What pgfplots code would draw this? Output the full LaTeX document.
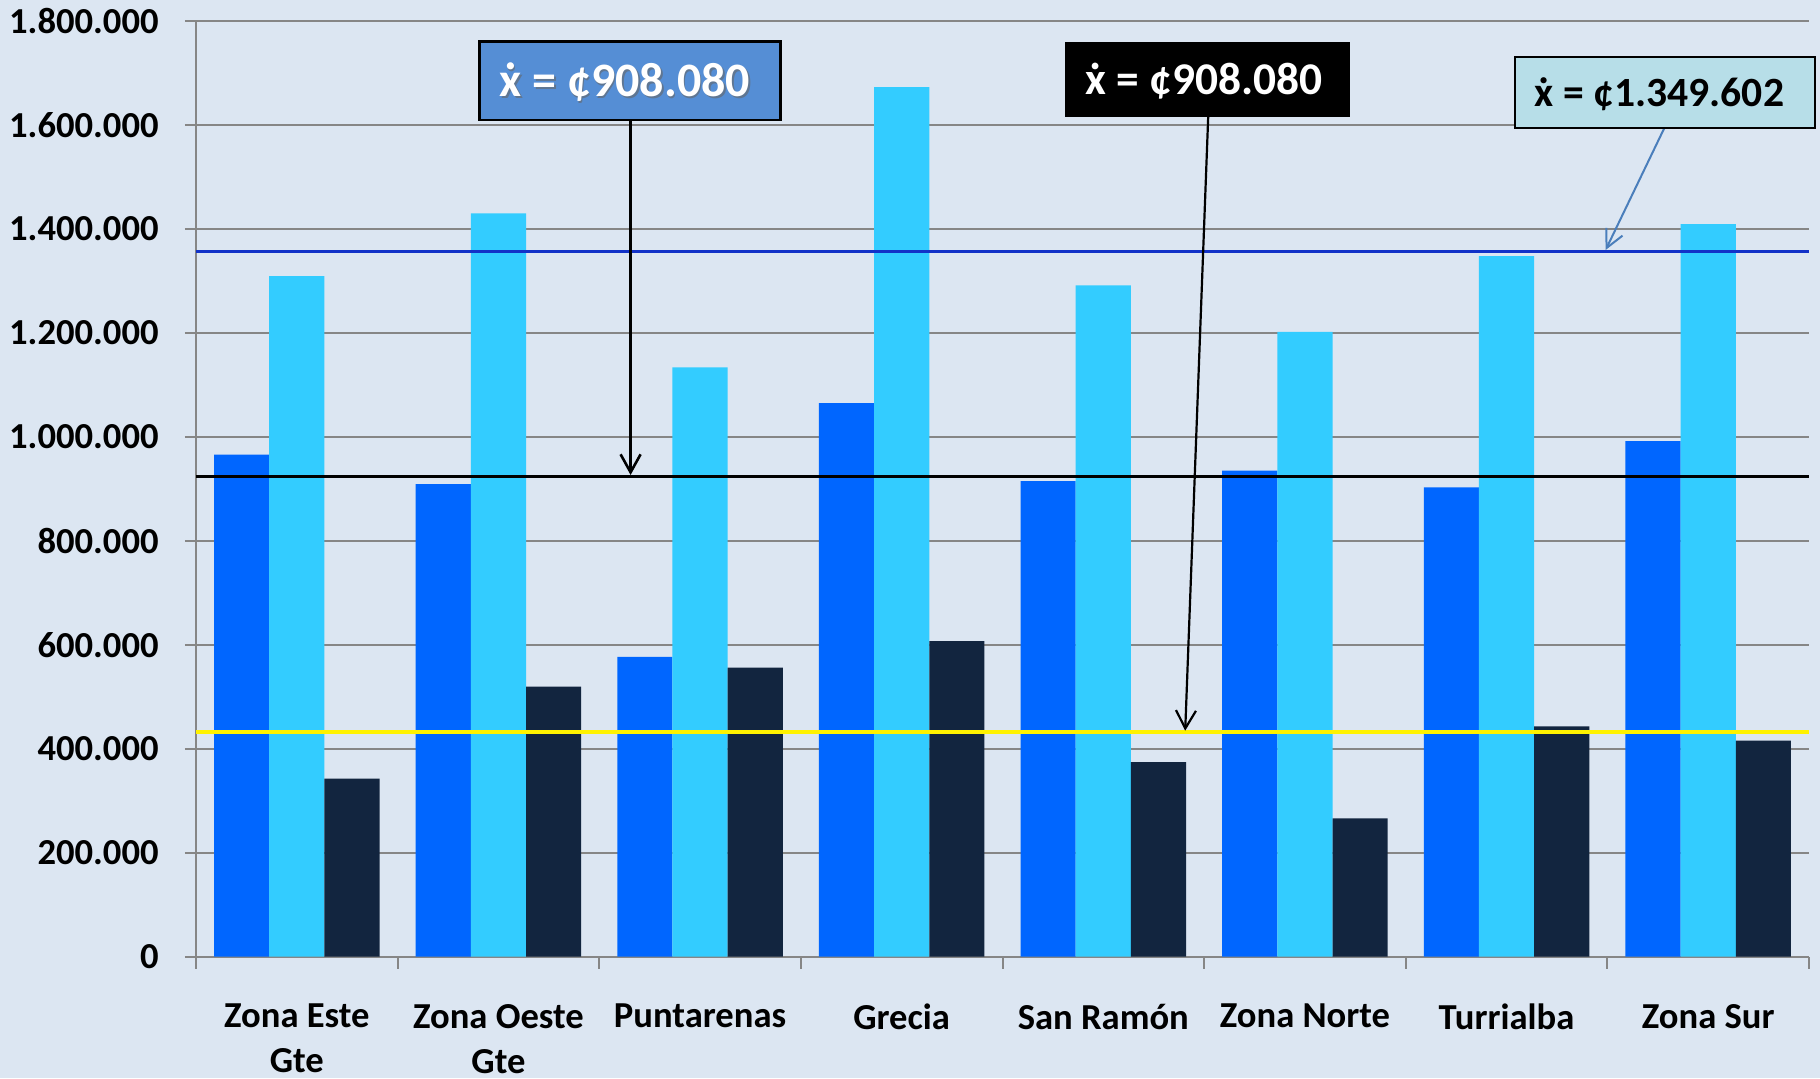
\documentclass[border=0pt]{standalone}
\usepackage{fontspec}
\setmainfont{Carlito}
\usepackage{pgfplots}
\pgfplotsset{compat=1.18}
\usetikzlibrary{arrows.meta}
\definecolor{bg}{HTML}{DCE6F2}
\definecolor{barA}{HTML}{0066FF}
\definecolor{barB}{HTML}{33CCFF}
\definecolor{barC}{HTML}{12253F}
\definecolor{gridc}{HTML}{868686}
\definecolor{meanblue}{HTML}{1232C8}
\definecolor{boxblue}{HTML}{558ED5}
\definecolor{boxlight}{HTML}{B7DEE8}
\definecolor{arrowblue}{HTML}{4A7EBB}
\newcommand{\xdot}{\ooalign{x\cr\hidewidth\raisebox{0.56em}{.}\hidewidth\cr}}
\begin{document}
\begin{tikzpicture}
\useasboundingbox (-98pt,-60.65pt) rectangle (812pt,478.35pt);
\fill[bg] (-98pt,-60.65pt) rectangle (812pt,478.35pt);
\begin{axis}[
  at={(0pt,0pt)}, anchor=south west,
  scale only axis, width=806.5pt, height=468pt,
  xmin=-0.5, xmax=7.5, ymin=0, ymax=1800000,
  ytick={0,200000,400000,600000,800000,1000000,1200000,1400000,1600000,1800000},
  scaled y ticks=false,
  /pgf/number format/fixed, /pgf/number format/precision=0,
  /pgf/number format/1000 sep={.}, /pgf/number format/assume math mode=true,
  xtick={0,1,2,3,4,5,6,7},
  xticklabels={{Zona Este\\Gte},{Zona Oeste\\Gte},Puntarenas,Grecia,{San Ramón},{Zona Norte},Turrialba,{Zona Sur}},
  minor xtick={-0.5,0.5,1.5,2.5,3.5,4.5,5.5,6.5,7.5},
  every major x tick/.append style={draw=none},
  tick align=outside,
  major tick length=5.5pt, minor tick length=6pt,
  tick style={gridc, line width=1pt},
  axis x line*=bottom, axis y line*=left,
  axis line style={gridc, line width=1pt, -},
  ymajorgrids, major grid style={gridc, line width=1pt},
  tick label style={font=\fontsize{18.3}{22.5}\selectfont\bfseries},
  xticklabel style={align=center, anchor=north, inner sep=0pt, yshift=-18pt},
  yticklabel style={anchor=east, inner sep=0pt, xshift=-13pt},
  clip=false,
]
\addplot[ybar, bar width=27.6pt, bar shift=-27.6pt, fill=barA, draw=none] coordinates {
(0,965400) (1,909000) (2,576400) (3,1064800) (4,914800) (5,934600) (6,902700) (7,991700)};
\addplot[ybar, bar width=27.6pt, bar shift=0pt, fill=barB, draw=none] coordinates {
(0,1309000) (1,1429600) (2,1133400) (3,1672500) (4,1291100) (5,1201400) (6,1347500) (7,1409000)};
\addplot[ybar, bar width=27.6pt, bar shift=27.6pt, fill=barC, draw=none] coordinates {
(0,342300) (1,519200) (2,555800) (3,607100) (4,374400) (5,266100) (6,443100) (7,415400)};
\addplot[meanblue, line width=1.5pt, mark=none] coordinates {(-0.5,1355800) (7.5,1355800)};
\addplot[black, line width=1.8pt, mark=none] coordinates {(-0.5,923100) (7.5,923100)};
\addplot[yellow, line width=2pt, mark=none] coordinates {(-0.5,432100) (7.5,432100)};
\end{axis}
% annotation 1
\draw[black, line width=1.6pt, -{Straight Barb[length=9pt,width=10pt,line width=1.3pt]}] (217.3pt,418.35pt) -- (217.3pt,240.85pt);
\draw[black, line width=1.3pt, fill=boxblue] (141.8pt,418.35pt) rectangle (292.3pt,457.5pt);
\node[anchor=base west, inner sep=0pt, text=black!60, opacity=0.6, font=\fontsize{24}{28}\selectfont\bfseries] at (152.45pt,429.2pt) {\xdot{} = ¢908.080};
\node[anchor=base west, inner sep=0pt, text=white, font=\fontsize{24}{28}\selectfont\bfseries] at (151.65pt,430pt) {\xdot{} = ¢908.080};
% annotation 2
\draw[black, line width=1.1pt, -{Straight Barb[length=9pt,width=10pt,line width=1.1pt]}] (506.1pt,420pt) -- (494.6pt,113pt);
\fill[black] (434.45pt,420pt) rectangle (577.2pt,457.2pt);
\node[anchor=base west, inner sep=0pt, text=white, font=\fontsize{22.7}{27}\selectfont\bfseries] at (444.5pt,430.85pt) {\xdot{} = ¢908.080};
% annotation 3
\draw[arrowblue, line width=1pt, -{Straight Barb[length=9pt,width=9pt,line width=1pt]}] (734.1pt,414.2pt) -- (704.8pt,353.35pt);
\draw[black, line width=1pt, fill=boxlight] (659.5pt,414.2pt) rectangle (809.5pt,450pt);
\node[anchor=base west, inner sep=0pt, text=black, font=\fontsize{20.8}{25}\selectfont\bfseries] at (669.25pt,425pt) {\xdot{} = ¢1.349.602};
\end{tikzpicture}
\end{document}
